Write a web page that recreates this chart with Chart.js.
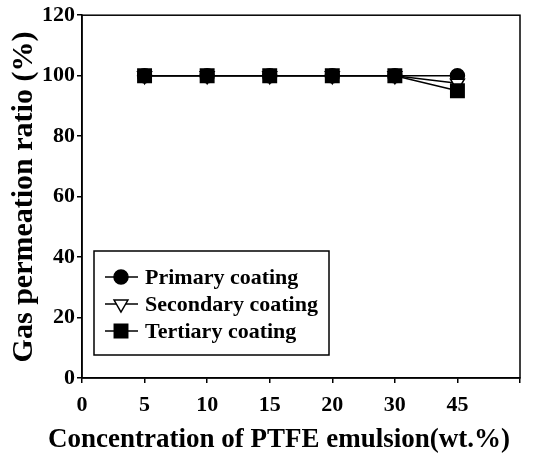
<!DOCTYPE html>
<html>
<head>
<meta charset="utf-8">
<script src="https://cdn.jsdelivr.net/npm/chart.js@4/dist/chart.umd.min.js"></script>
<style>
  html, body { margin: 0; padding: 0; background: #fff; }
  #wrap { width: 546px; height: 457px; }
</style>
</head>
<body>
<div id="wrap"><canvas id="c" width="546" height="457"></canvas></div>
<script>
// PTFE emulsion concentration (wt.%) on the category axis; last slot left blank
const axisLabels = ['0', '5', '10', '15', '20', '30', '45', ''];
const concentrations = ['5', '10', '15', '20', '30', '45'];
const primaryCoating = [100, 100, 100, 100, 100, 100];
const secondaryCoating = [100, 100, 100, 100, 100, 97.5];
const tertiaryCoating = [100, 100, 100, 100, 100, 95];
const yTicks = [0, 20, 40, 60, 80, 100, 120];

const SERIF = '"Liberation Serif", "Times New Roman", serif';

function pts(vals) {
  return vals.map((v, i) => ({ x: concentrations[i], y: v }));
}

const series = [
  { label: 'Primary coating', data: pts(primaryCoating), pointStyle: 'circle', pointRadius: 7, rotation: 0, fill: '#000', order: 3 },
  { label: 'Secondary coating', data: pts(secondaryCoating), pointStyle: 'triangle', pointRadius: 8, rotation: 180, fill: '#fff', order: 2 },
  { label: 'Tertiary coating', data: pts(tertiaryCoating), pointStyle: 'rect', pointRadius: 9.5, rotation: 0, fill: '#000', order: 1 }
];

const frameAndTitles = {
  id: 'frameAndTitles',
  afterDraw(chart) {
    const { ctx, chartArea: a } = chart;
    ctx.save();
    // box around the plot
    ctx.strokeStyle = '#000';
    ctx.lineWidth = 1.5;
    ctx.strokeRect(a.left, a.top, a.right - a.left, a.bottom - a.top);

    // axis titles
    ctx.fillStyle = '#000';
    ctx.font = 'bold 27px ' + SERIF;
    ctx.textAlign = 'center';
    ctx.textBaseline = 'middle';
    ctx.fillText('Concentration of PTFE emulsion(wt.%)', 279, 440);
    ctx.save();
    ctx.translate(24, 197);
    ctx.rotate(-Math.PI / 2);
    ctx.font = 'bold 30px ' + SERIF;
    ctx.fillText('Gas permeation ratio (%)', 0, 0);
    ctx.restore();

    // legend box
    const lx = 94, ly = 251, lw = 235, lh = 104;
    ctx.fillStyle = '#fff';
    ctx.fillRect(lx, ly, lw, lh);
    ctx.lineWidth = 1.5;
    ctx.strokeRect(lx, ly, lw, lh);
    const rowY = [277, 304, 331];
    series.forEach((s, i) => {
      const y = rowY[i];
      ctx.beginPath();
      ctx.lineWidth = 1.5;
      ctx.strokeStyle = '#000';
      ctx.moveTo(105, y);
      ctx.lineTo(138, y);
      ctx.stroke();
      ctx.fillStyle = s.fill;
      ctx.strokeStyle = '#000';
      ctx.lineWidth = 1.5;
      Chart.helpers.drawPoint(ctx, { pointStyle: s.pointStyle, radius: s.pointRadius, rotation: s.rotation, borderWidth: 1.5 }, 121, y);
      ctx.fillStyle = '#000';
      ctx.font = 'bold 22px ' + SERIF;
      ctx.textAlign = 'left';
      ctx.textBaseline = 'middle';
      ctx.fillText(s.label, 145, y + 1);
    });
    ctx.restore();
  }
};

new Chart(document.getElementById('c'), {
  type: 'line',
  data: {
    labels: axisLabels,
    datasets: series.map(s => ({
      label: s.label,
      data: s.data,
      order: s.order,
      borderColor: '#000',
      borderWidth: 1.5,
      backgroundColor: s.fill,
      pointStyle: s.pointStyle,
      pointRadius: s.pointRadius,
      pointRotation: s.rotation,
      pointBackgroundColor: s.fill,
      pointBorderColor: '#000',
      pointBorderWidth: 1.5,
      tension: 0,
      fill: false
    }))
  },
  options: {
    responsive: false,
    animation: false,
    events: [],
    layout: { padding: { left: 0, top: 14, right: 26, bottom: 0 } },
    plugins: { legend: { display: false }, tooltip: { enabled: false } },
    scales: {
      x: {
        type: 'category',
        offset: false,
        grid: { drawOnChartArea: false, color: '#000', tickLength: 5, lineWidth: 1.5 },
        border: { color: '#000', width: 1.5 },
        ticks: { color: '#000', font: { family: SERIF, size: 22, weight: 'bold' }, padding: 9, maxRotation: 0, autoSkip: false },
        afterFit(scale) { scale.height = 79; }
      },
      y: {
        min: 0, max: 120,
        afterBuildTicks(scale) { scale.ticks = yTicks.map(v => ({ value: v })); },
        grid: { drawOnChartArea: false, color: '#000', tickLength: 5, lineWidth: 1.5 },
        border: { color: '#000', width: 1.5 },
        ticks: { color: '#000', font: { family: SERIF, size: 22, weight: 'bold' }, padding: 2 },
        afterFit(scale) { scale.width = 82; }
      }
    }
  },
  plugins: [frameAndTitles]
});
</script>
</body>
</html>
